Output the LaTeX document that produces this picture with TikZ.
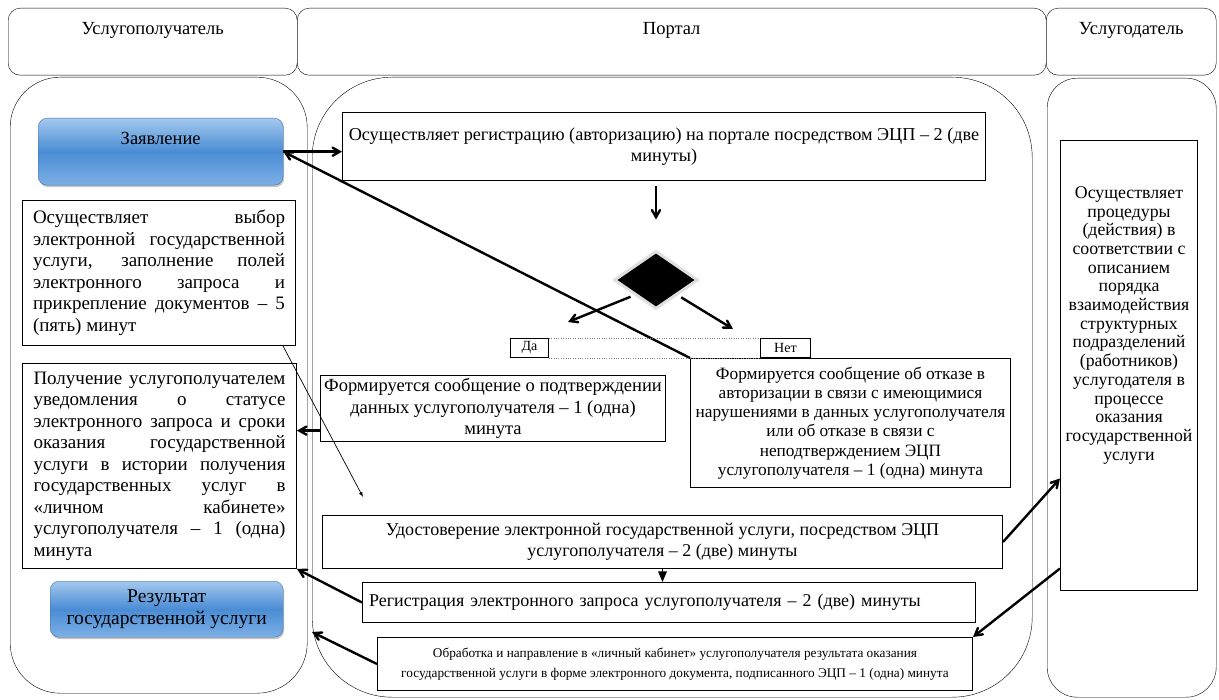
\documentclass[tikz,border=0pt]{standalone}
\usepackage{fontspec}
\setmainfont{Liberation Serif}
\usepackage{tikz}
\usetikzlibrary{arrows,shapes,shadows}
\definecolor{blueTop}{HTML}{A4C8EE}
\definecolor{blueMid}{HTML}{4A8CD4}
\definecolor{blueBot}{HTML}{7DB0E6}
\definecolor{blueEdge}{HTML}{3F72AF}
\newcommand{\hdrfnt}{\fontsize{18.5}{20}\selectfont}
\newcommand{\bodyfnt}{\fontsize{18.5}{21.5}\selectfont}
\newcommand{\leftfnt}{\fontsize{19}{21.5}\selectfont}
\newcommand{\sidefnt}{\fontsize{17.8}{18.7}\selectfont}
\newcommand{\notefnt}{\fontsize{13.3}{20}\selectfont}
\newcommand{\tagfnt}{\fontsize{14}{16}\selectfont}

\begin{document}
\begin{tikzpicture}[x=1pt, y=-1pt,
		hdr/.style={rectangle,draw,thin,rounded corners=12pt,anchor=north west,minimum height=67pt},
		lane/.style={rectangle,draw,thin,anchor=north west},
		blk/.style={rectangle,draw,line width=1pt,anchor=north west,inner sep=3pt},
		bluebox/.style={rectangle,rounded corners=9pt,draw=blueEdge,top color=blueTop,bottom color=blueBot,middle color=blueMid,anchor=north west,drop shadow={shadow xshift=1pt,shadow yshift=-2pt,opacity=0.45}},
		arr/.style={->,>=angle 60,line width=2.4pt}]
		\useasboundingbox (0, 0) rectangle (1219, 700);

		\node[hdr,minimum width=289pt,label={[anchor=north,yshift=-11pt,font=\hdrfnt]north:Услугополучатель}] (hdrA) at (8, 8) {};
		\node[hdr,minimum width=749pt,label={[anchor=north,yshift=-11pt,font=\hdrfnt]north:Портал}] (hdrB) at (297, 8) {};
		\node[hdr,minimum width=170pt,label={[anchor=north,yshift=-11pt,font=\hdrfnt]north:Услугодатель}] (hdrC) at (1046, 8) {};

		\node[lane,rounded corners=50pt,minimum width=297pt,minimum height=616pt] (laneA) at (10, 77) {};
		\node[lane,rounded corners=80pt,minimum width=720pt,minimum height=620pt] (laneB) at (312, 77) {};
		\node[lane,rounded corners=30pt,minimum width=169pt,minimum height=619pt] (laneC) at (1047, 78) {};

		\node[bluebox,minimum width=245pt,minimum height=67pt,label={[anchor=north,yshift=-11pt,font=\bodyfnt]north:Заявление}] (zayav) at (38, 118) {};
		\node[blk,minimum width=273pt,minimum height=145pt,text width=252pt,align=justify,font=\leftfnt] (selL) at (22, 200) {Осуществляет выбор\linebreak электронной государственной\linebreak услуги, заполнение полей\linebreak электронного запроса и\linebreak прикрепление документов – 5\linebreak (пять) минут};
		\node[blk,minimum width=274pt,minimum height=205pt,text width=252pt,align=justify,font=\leftfnt] (notL) at (22, 363) {Получение услугополучателем\linebreak уведомления о статусе\linebreak электронного запроса и сроки\linebreak оказания государственной\linebreak услуги в истории получения\linebreak государственных услуг в\linebreak «личном кабинете»\linebreak услугополучателя – 1 (одна)\linebreak минута};
		\node[bluebox,minimum width=233pt,minimum height=56pt,align=center,font=\fontsize{19.5}{21.5}\selectfont] (result) at (50, 581) {Результат\\государственной услуги};

		\node[blk,minimum width=643pt,minimum height=68pt,inner sep=2pt,align=center,font=\fontsize{18.2}{21.5}\selectfont] (reg) at (342, 112) {Осуществляет регистрацию (авторизацию) на портале посредством ЭЦП – 2 (две\\минуты)};
		\node[diamond,fill=black,draw=gray!25,line width=3pt,minimum width=84pt,minimum height=58pt,inner sep=0pt] (dec) at (656, 280) {};
		\coordinate (yes) at (568, 322);
		\coordinate (no) at (733, 329);
		\node[blk,line width=0.8pt,minimum width=38pt,minimum height=19pt,inner sep=1pt,font=\tagfnt] (da) at (510, 338) {Да};
		\node[blk,line width=0.8pt,minimum width=50pt,minimum height=19pt,inner sep=1pt,font=\tagfnt] (net) at (760, 338) {Нет};
		\node[blk,minimum width=345pt,minimum height=65pt,align=center,font=\bodyfnt] (conf) at (320, 375) {Формируется сообщение о подтверждении\\данных услугополучателя – 1 (одна)\\минута};
		\node[blk,minimum width=320pt,minimum height=129pt,inner sep=2pt,align=center,font=\fontsize{17.3}{19.2}\selectfont] (refuse) at (690, 358) {Формируется сообщение об отказе в\\авторизации в связи с имеющимися\\нарушениями в данных услугополучателя\\или об отказе в связи с\\неподтверждением ЭЦП\\услугополучателя – 1 (одна) минута};
		\coordinate (udIn) at (363, 497);
		\node[blk,minimum width=680pt,minimum height=53pt,align=center,font=\fontsize{18}{21.5}\selectfont] (udost) at (322, 515) {Удостоверение электронной государственной услуги, посредством ЭЦП\\услугополучателя – 2 (две) минуты};
		\node[blk,minimum width=613pt,minimum height=40pt,text width=600pt,align=left,font=\fontsize{18}{21.5}\selectfont] (regz) at (362, 582) {Регистрация электронного запроса услугополучателя – 2 (две) минуты};
		\node[blk,minimum width=595pt,minimum height=53pt,align=center,font=\notefnt] (obr) at (377, 637) {Обработка и направление в «личный кабинет» услугополучателя результата оказания\\государственной услуги в форме электронного документа, подписанного ЭЦП – 1 (одна) минута};
		\coordinate (resIn) at (312, 632);

		\node[blk,minimum width=137pt,minimum height=450pt,label={[anchor=north,yshift=-43pt,align=center,font=\sidefnt]north:Осуществляет\\процедуры\\(действия) в\\соответствии с\\описанием\\порядка\\взаимодействия\\структурных\\подразделений\\(работников)\\услугодателя в\\процессе\\оказания\\государственной\\услуги}] (usl) at (1060, 140) {};

		\draw[arr] (zayav.east) -- (zayav.east -| reg.west);
		\draw[arr] (refuse.north west) -- (zayav.east);
		\draw[arr,shorten <=5pt,shorten >=30pt] (reg.south -| dec.north) -- (dec.north);
		\draw[arr,shorten <=4pt] (dec.south west) -- (yes);
		\draw[arr,shorten <=4pt] (dec.south east) -- (no);
		\draw[gray,dotted] (da.north east) -- (net.north west);
		\draw[gray,dotted] (da.south east) -- (net.south west);
		\draw[->,>=latex,line width=0.7pt] ([xshift=-13pt]selL.south east) -- (udIn);
		\draw[arr] ([yshift=-22pt]conf.west) -- ([yshift=-22pt]conf.west -| notL.east);
		\draw[->,>=triangle 45,line width=1.5pt] (udost.south) -- (udost.south |- regz.north);
		\draw[arr] (regz.west) -- (notL.south east);
		\draw[arr] (obr.west) -- (resIn);
		\draw[arr] (udost.east) -- ([yshift=-113pt]usl.west);
		\draw[arr] ([yshift=-203pt]usl.west) -- (obr.north east);
\end{tikzpicture}
\end{document}
